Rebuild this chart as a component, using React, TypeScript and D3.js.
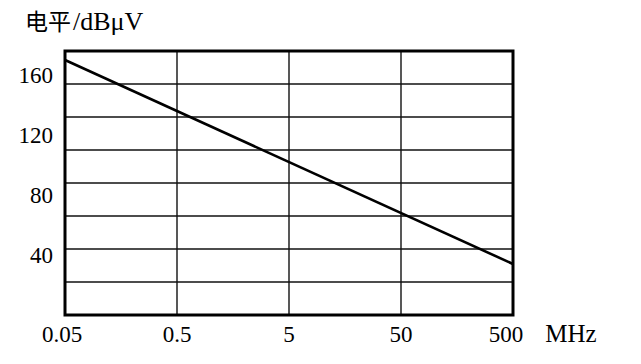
import * as d3 from "d3";

// 频率 (MHz) 与电平 (dBμV)
const freqs = [0.05, 500];
const levels = [170, 34];

const xTicks = [0.05, 0.5, 5, 50, 500];
const xTickLabels = ["0.05", "0.5", "5", "50", "500"];
const yTicks = [40, 80, 120, 160];
const yDomain: [number, number] = [0, 176];
const gridRows = 8;

const W = 641;
const H = 364;
const margin = { top: 51, right: 128, bottom: 49, left: 65 };

const App = () => {
  const x = d3
    .scaleLog()
    .domain([0.05, 500])
    .range([margin.left, W - margin.right]);
  const y = d3
    .scaleLinear()
    .domain(yDomain)
    .range([H - margin.bottom, margin.top]);

  const step = (yDomain[1] - yDomain[0]) / gridRows;
  const hLines = d3.range(1, gridRows).map((i) => yDomain[0] + i * step);

  const line = d3
    .line<number>()
    .x((_, i) => x(freqs[i]))
    .y((d) => y(d));

  const font = "Liberation Serif, Noto Sans CJK SC, serif";
  const [x0, x1] = x.range();
  const [y0, y1] = y.range();

  return (
    <svg width={W} height={H} style={{ position: "absolute", left: 0, top: 0, background: "#fff" }}>
      {/* 网格 */}
      <g stroke="#111" strokeWidth={1.4}>
        {hLines.map((v) => (
          <line key={v} x1={x0} x2={x1} y1={y(v)} y2={y(v)} />
        ))}
        {xTicks.slice(1, -1).map((f) => (
          <line key={f} x1={x(f)} x2={x(f)} y1={y0} y2={y1} />
        ))}
      </g>

      {/* 曲线 */}
      <path d={line(levels) ?? ""} fill="none" stroke="#000" strokeWidth={2.6} />

      {/* 边框 */}
      <rect x={x0} y={y1} width={x1 - x0} height={y0 - y1} fill="none" stroke="#000" strokeWidth={3} />

      {/* Y 轴刻度 */}
      <g fontFamily={font} fontSize={23} textAnchor="end">
        {yTicks.map((v) => (
          <text key={v} x={x0 - 12} y={y(v)} dy="0.35em">
            {v}
          </text>
        ))}
      </g>

      {/* X 轴刻度 */}
      <g fontFamily={font} fontSize={23} textAnchor="middle">
        {xTicks.map((f, i) => (
          <text key={f} x={x(f) - (i === xTicks.length - 1 ? 7 : i === 0 ? 3 : 0)} y={342}>
            {xTickLabels[i]}
          </text>
        ))}
        <text x={571} y={342} fontSize={25}>
          MHz
        </text>
      </g>

      {/* 标题 */}
      <text x={25} y={30} fontFamily={font}>
        <tspan fontSize={23}>电平</tspan>
        <tspan fontSize={26} dx={2}>
          /dBμV
        </tspan>
      </text>
    </svg>
  );
};

export default App;
